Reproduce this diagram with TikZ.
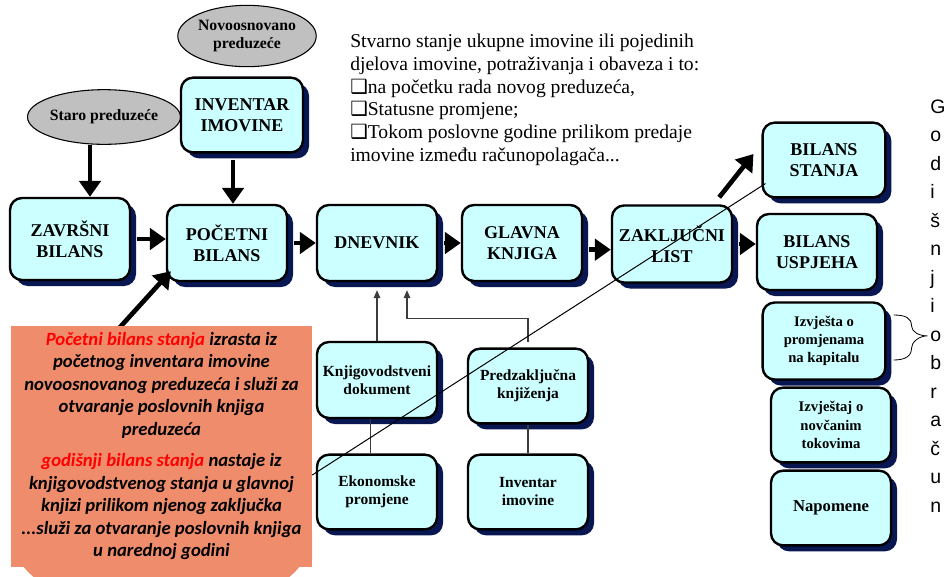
\documentclass[tikz,border=0pt]{standalone}
\usepackage{fontspec}
\setmainfont{Liberation Serif}
\newfontfamily\calibfont{Carlito}
\newfontfamily\arialfont{Liberation Sans}
\newfontfamily\symfont{DejaVu Sans}
\usetikzlibrary{arrows.meta,shadows,shapes.geometric,calc}

\definecolor{boxcyan}{RGB}{204,255,255}
\definecolor{shadownavy}{RGB}{8,22,82}
\definecolor{ovalgray}{RGB}{192,192,192}
\definecolor{noteorange}{RGB}{238,140,108}
\definecolor{linegray}{RGB}{60,60,60}

\newcommand{\chkbox}{{\symfont\char"2751}}

\begin{document}
\begin{tikzpicture}[x=0.75pt,y=-0.75pt,
  box/.style={draw,line width=1.8pt,rounded corners=9pt,fill=boxcyan,
    minimum width=90pt,minimum height=57pt,align=center,inner sep=2pt,
    drop shadow={shadow xshift=4.5pt,shadow yshift=-4.5pt,fill=shadownavy,opacity=1}},
  bigtxt/.style={font=\bfseries\fontsize{13.5}{15.75}\selectfont},
  smalltxt/.style={font=\bfseries\fontsize{11.6}{13.5}\selectfont},
  oval/.style={ellipse,draw,fill=ovalgray,line width=0.8pt,inner sep=0pt,align=center,
    font=\bfseries\fontsize{11.8}{13.5}\selectfont},
  thickarr/.style={line width=3.5pt,-{Triangle[length=12pt,width=16pt]}},
  thinarr/.style={line width=0.9pt,draw=linegray,-{Triangle[length=6pt,width=5pt]}},
  thinline/.style={line width=0.9pt,draw=linegray}]

\useasboundingbox (0,0) rectangle (947,576);

% ovals on top
\node[oval,minimum width=88pt,minimum height=46pt] (novo) at (247,36) {Novoosnovano\\preduzeće};
\node[oval,minimum width=88pt,minimum height=41pt] (staro) at (104,117) {Staro preduzeće};

% main row
\node[box,bigtxt,minimum width=91.5pt,minimum height=56pt] (inv) at (242,115) {INVENTAR\\IMOVINE};
\node[box,bigtxt,minimum height=61.5pt] (zav) at (70,239) {ZAVRŠNI\\BILANS};
\node[box,bigtxt] (poc) at (227,243) {POČETNI\\BILANS};
\node[box,bigtxt] (dnev) at (377,243) {DNEVNIK};
\node[box,bigtxt] (glav) at (522,243) {GLAVNA\\KNJIGA};
\node[box,bigtxt,minimum height=57.75pt] (zakl) at (672,244) {ZAKLJUČNI\\LIST};
\node[box,bigtxt,minimum width=92pt,minimum height=56pt] (bstanja) at (824,160) {BILANS\\STANJA};
\node[box,bigtxt] (buspj) at (817,252) {BILANS\\USPJEHA};

% right column
\node[box,smalltxt,minimum width=92pt,minimum height=57.75pt,font=\bfseries\fontsize{11}{13.7}\selectfont] (izvk) at (824,341) {Izvješta o\\promjenama\\na kapitalu};
\node[box,smalltxt,minimum height=56pt,font=\bfseries\fontsize{11}{13.7}\selectfont] (izvn) at (831,425) {Izvještaj o\\novčanim\\tokovima};
\node[box,bigtxt,minimum height=56pt,font=\bfseries\fontsize{12.5}{15}\selectfont] (napom) at (831,508) {Napomene};

% lower boxes
\node[box,smalltxt] (knjdok) at (377,380) {Knjigovodstveni\\dokument};
\node[box,smalltxt,minimum height=56pt] (ekon) at (377,492) {Ekonomske\\promjene};
\node[box,smalltxt,minimum height=56pt] (predz) at (528,386) {Predzaključna\\knjiženja};
\node[box,smalltxt,minimum height=56pt] (invim) at (528,492) {Inventar\\imovine};

% thick arrows
\coordinate (sa) at ($(staro.south)+(-14,0)$);
\draw[thickarr] (sa) -- (sa |- zav.north);
\coordinate (ia) at ($(inv.south)+(-9,6)$);
\draw[thickarr] (ia) -- (ia |- poc.north);
\draw[thickarr] ([xshift=4.5pt]zav.east) -- (zav.east -| poc.west);
\draw[thickarr] ([xshift=4.5pt]poc.east) -- (poc.east -| dnev.west);
\draw[thickarr] ([xshift=4.5pt]dnev.east) -- (dnev.east -| glav.west);
\coordinate (ga) at ([yshift=-5pt]glav.east);
\draw[thickarr] ([xshift=4.5pt]ga) -- (ga -| zakl.west);
\draw[thickarr] ([xshift=4.5pt]zakl.east) -- (zakl.east -| buspj.west);
\coordinate (za) at ($(zakl.north east)+(-14,-7)$);
\draw[thickarr] (za) -- ($(bstanja.west)+(-8,-6)$);
\coordinate (ptail) at (112,336);
\draw[thickarr] (ptail) -- ($(poc.south west)+(5,-11)$);

% thin connectors
\draw[thinarr,shorten >=6pt] (knjdok.north) -- (knjdok.north |- dnev.south);
\draw[thinarr,shorten >=6pt] ([yshift=4pt]predz.north) -- ++(0,-24) -| ($(dnev.south)+(30,0)$);
\draw[thinline] ([xshift=-5pt]ekon.north) -- ([xshift=-5pt]knjdok.south);
\draw[thinline] (invim.north) -- (predz.south);

% brace to the vertical word
\foreach \ch [count=\i from 0] in {G,o,d,i,š,n,j,i,o,b,r,a,č,u,n}
  \node[anchor=base west,inner sep=0pt,font=\arialfont\fontsize{14.6}{17}\selectfont] (g\i) at (930,{113+28.5*\i}) {\ch};
\draw[line width=0.6pt] ($(izvk.east)+(7,-26)$) .. controls +(12,0) and +(0,-8) .. ($(izvk.east)+(25,-15)$)
  .. controls +(0,6) and +(-8,0) .. ([xshift=-2pt]g8.west)
  .. controls +(-8,0) and +(0,-6) .. ($(izvk.east)+(25,7)$)
  .. controls +(0,8) and +(12,0) .. ($(izvk.east)+(7,19)$);

% text above the row
\node[anchor=north west,inner sep=0pt,align=left,font=\fontsize{14.7}{17}\selectfont] (opis) at (350,34)
  {Stvarno stanje ukupne imovine ili pojedinih\\
   djelova imovine, potraživanja i obaveza i to:\\
   \chkbox na početku rada novog preduzeća,\\
   \chkbox Statusne promjene;\\
   \chkbox Tokom poslovne godine prilikom predaje\\
   imovine između računopolagača...};

% orange note
\fill[noteorange,rounded corners=45pt] (11,500) rectangle (312,590);
\node[fill=noteorange,minimum width=225.75pt,minimum height=180.75pt,inner sep=0pt,align=center,
  font=\calibfont\bfseries\itshape\fontsize{14}{16.9}\selectfont] (note) at (161.5,446)
  {{\color{red}Početni bilans stanja} izrasta iz\\
   početnog inventara imovine\\
   novoosnovanog preduzeća i služi za\\
   otvaranje poslovnih knjiga\\
   preduzeća\\[6.4pt]
   {\color{red}godišnji bilans stanja} nastaje iz\\
   knjigovodstvenog stanja u glavnoj\\
   knjizi prilikom njenog zaključka\\
   ...služi za otvaranje poslovnih knjiga\\
   u narednoj godini};

% long thin line
\draw[line width=0.75pt] ($(note.north east)!0.62!(note.south east)$) -- ($(bstanja.south west)+(4,-15)$);

\end{tikzpicture}
\end{document}
